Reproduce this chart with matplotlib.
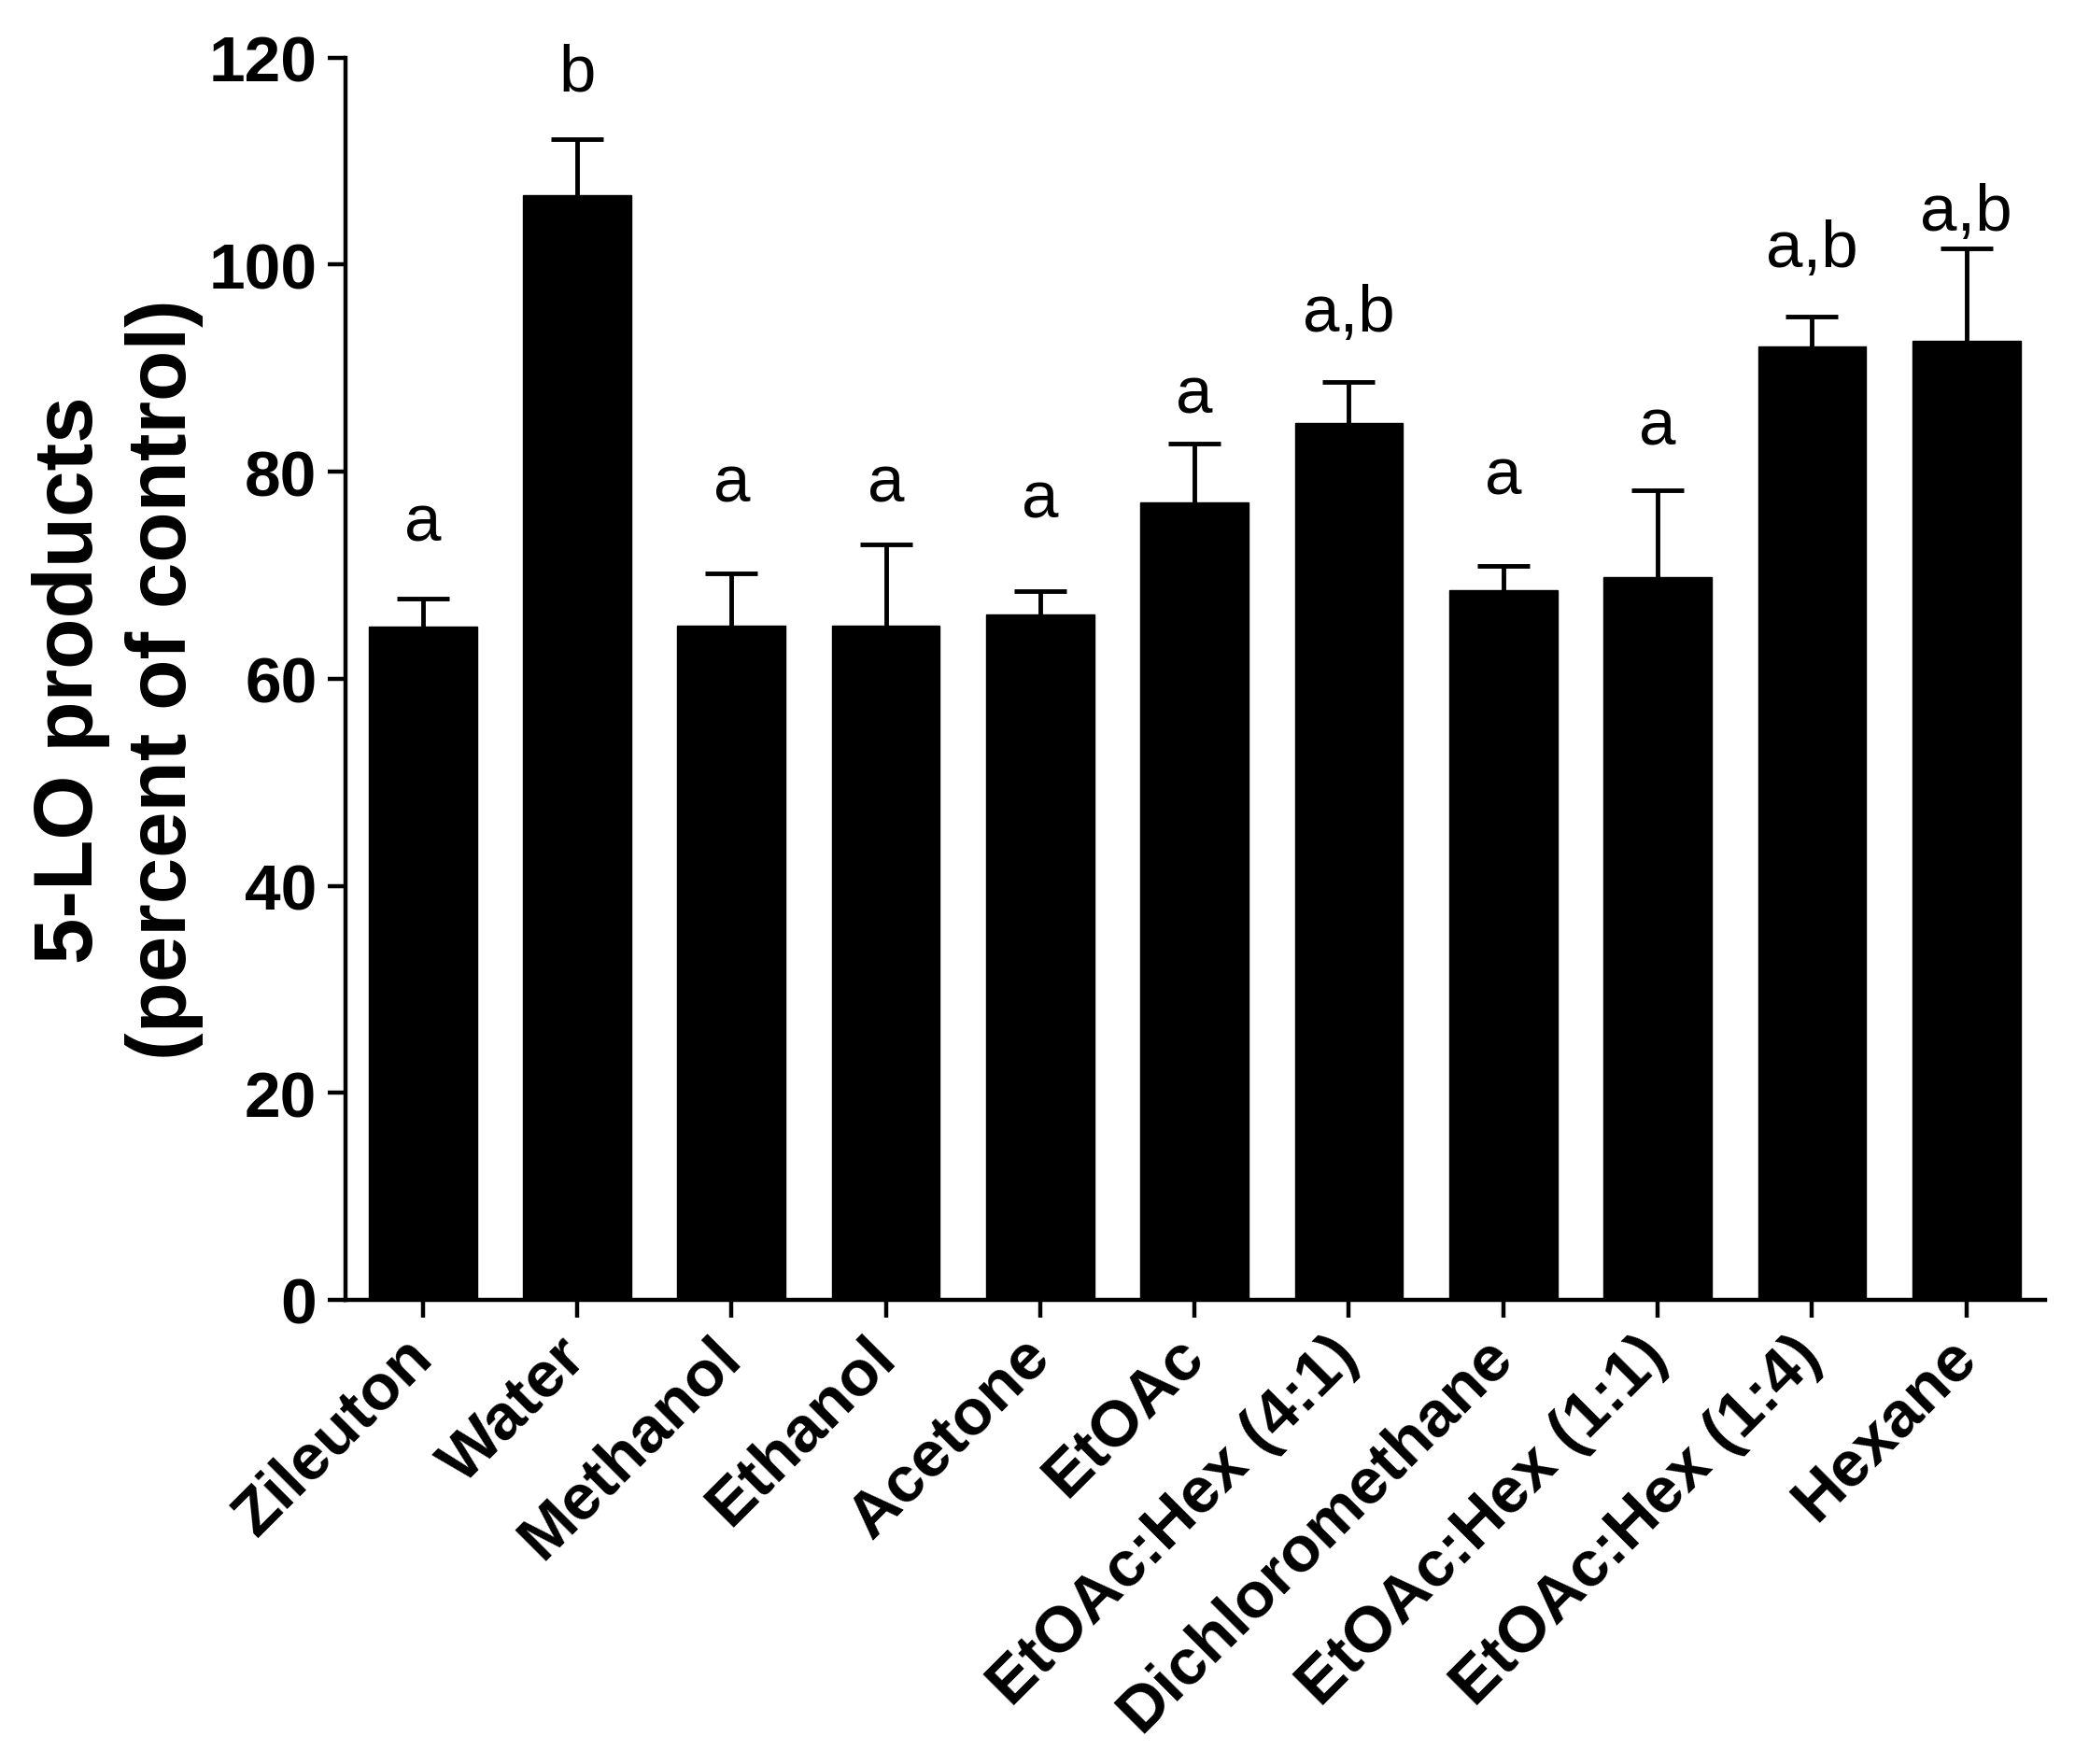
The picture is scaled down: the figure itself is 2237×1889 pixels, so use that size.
import matplotlib
matplotlib.use("Agg")
import matplotlib.pyplot as plt
import numpy as np

categories = ["Zileuton", "Water", "Methanol", "Ethanol", "Acetone", "EtOAc",
              "EtOAc:Hex (4:1)", "Dichloromethane", "EtOAc:Hex (1:1)",
              "EtOAc:Hex (1:4)", "Hexane"]
values = [65.0, 106.7, 65.1, 65.1, 66.2, 77.0, 84.7, 68.6, 69.8, 92.1, 92.6]
err_top = [67.7, 112.1, 70.2, 73.0, 68.5, 82.7, 88.7, 70.9, 78.2, 95.0, 101.6]
letters = ["a", "b", "a", "a", "a", "a", "a,b", "a", "a", "a,b", "a,b"]
letter_y = [73.4, 116.9, 77.2, 77.2, 75.6, 85.7, 93.6, 77.9, 82.7, 99.9, 103.4]
yticks = [0, 20, 40, 60, 80, 100, 120]

plt.rcParams['font.family'] = ['Liberation Sans', 'DejaVu Sans']

fig = plt.figure(figsize=(22.37, 18.9), dpi=100)
ax = fig.add_axes([0.1654, 0.263, 0.979 - 0.1654, 0.9668 - 0.263])

x = np.arange(len(categories))
vals = np.array(values)
errs = np.array(err_top) - vals
ax.bar(x, vals, width=0.7, color='black', edgecolor='black', zorder=2)
eb = ax.errorbar(x, vals, yerr=[np.zeros_like(errs), errs], fmt='none',
                 ecolor='black', elinewidth=3.5, capsize=20, capthick=3.5,
                 zorder=1)
# hide the lower caps (they sit on the bar top)
if len(eb[1]) == 2:
    eb[1][0].set_visible(False)

for xi, lab, ly in zip(x, letters, letter_y):
    ax.text(xi, ly, lab, ha='center', va='baseline', fontsize=51,
            fontweight='normal', clip_on=False)

ax.set_xlim(-0.5, 10.51)
ax.set_ylim(0, 120)
ax.set_yticks(yticks)
ax.set_yticklabels([str(t) for t in yticks], fontsize=50, fontweight='bold')
ax.set_xticks(x)
ax.set_xticklabels(categories, fontsize=50, fontweight='bold', rotation=45,
                   ha='right', va='center', rotation_mode='anchor')

for s in ['top', 'right']:
    ax.spines[s].set_visible(False)
for s in ['left', 'bottom']:
    ax.spines[s].set_linewidth(3.2)
ax.tick_params(axis='both', direction='out', length=14, width=3.2, pad=8)
ax.tick_params(axis='x', pad=22)

ax.set_ylabel("5-LO products\n(percent of control)", fontsize=64,
              fontweight='bold', labelpad=4, linespacing=1.25)

fig.savefig("out.png", dpi=100)
